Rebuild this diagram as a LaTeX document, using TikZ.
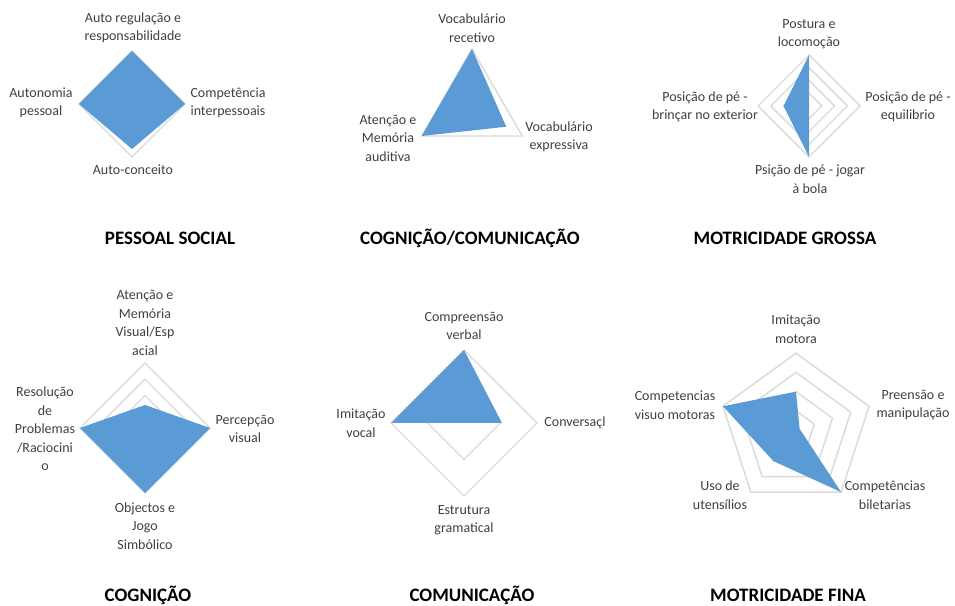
\documentclass[tikz,border=0pt]{standalone}
\usepackage{fontspec}
\setmainfont{Carlito}
\usepackage{xcolor}
\usepackage{tikz}
\definecolor{radarblue}{HTML}{5B9BD5}
\definecolor{gridgrey}{HTML}{D9D9D9}
\definecolor{labelgrey}{HTML}{404040}
\tikzstyle{every node}=[inner sep=0pt,align=center]
\tikzstyle{axislabel}=[text=labelgrey,font=\fontsize{14}{18.5}\selectfont]
\tikzstyle{charttitle}=[text=black,font=\fontsize{19}{21}\selectfont\bfseries]
\tikzstyle{ring}=[draw=gridgrey,line width=1.4pt,line join=miter]
\tikzstyle{serie}=[fill=radarblue,draw=none]

\begin{document}
\begin{tikzpicture}[x=1pt,y=1pt]
	\useasboundingbox (0,0) rectangle (955,605);

	\begin{scope}[shift={(132,501)}]
		\foreach \r in {0.5,1} {
			\draw [ring] (90:53*\r) -- (0:53*\r) -- (-90:53*\r) -- (180:53*\r) -- cycle;
		}
		\fill [serie] (90:53) -- (0:53) -- (-90:45) -- (180:53) -- cycle;
	\end{scope}
	\node [axislabel] (autoreg) at (133,577) {Auto regulação e\\responsabilidade};
	\node [axislabel] (compint) at (228,502) {Competência\\interpessoais};
	\node [axislabel] (autocon) at (133,435) {Auto-conceito};
	\node [axislabel] (autonom) at (41,502) {Autonomia\\pessoal};
	\node [charttitle] (pessoal) at (170,367) {PESSOAL SOCIAL};

	\begin{scope}[shift={(472,498)}]
		\foreach \r in {0.5,1} {
			\draw [ring] (90:58*\r) -- (-30:58*\r) -- (210:58*\r) -- cycle;
		}
		\fill [serie] (90:58) -- (-30:39.5) -- (210:58) -- cycle;
	\end{scope}
	\node [axislabel] (vocrec) at (472,577) {Vocabulário\\recetivo};
	\node [axislabel] (vocexp) at (559,468) {Vocabulário\\expressiva};
	\node [axislabel] (atenaud) at (388,467) {Atenção e\\Memória\\auditiva};
	\node [charttitle] (cogcom) at (470,367) {COGNIÇÃO/COMUNICAÇÃO};

	\begin{scope}[shift={(809,499)}]
		\foreach \r in {0.25,0.5,0.75,1} {
			\draw [ring] (90:51*\r) -- (0:51*\r) -- (-90:51*\r) -- (180:51*\r) -- cycle;
		}
		\fill [serie] (90:51) -- (0:0) -- (-90:51) -- (180:25.5) -- cycle;
	\end{scope}
	\node [axislabel] (postura) at (809,571) {Postura e\\locomoção};
	\node [axislabel] (equil) at (908,498) {Posição de pé -\\equilibrio};
	\node [axislabel] (jogar) at (810,426) {Psição de pé - jogar\\à bola};
	\node [axislabel] (brincar) at (705,498) {Posição de pé -\\brinçar no exterior};
	\node [charttitle] (grossa) at (785,367) {MOTRICIDADE GROSSA};

	\begin{scope}[shift={(145,177)}]
		\foreach \r in {0.25,0.5,0.75,1} {
			\draw [ring] (90:65*\r) -- (0:65*\r) -- (-90:65*\r) -- (180:65*\r) -- cycle;
		}
		\fill [serie] (90:23) -- (0:65) -- (-90:65) -- (180:65) -- cycle;
	\end{scope}
	\node [axislabel] (atenvis) at (145,282) {Atenção e\\Memória\\Visual/Esp\\acial};
	\node [axislabel] (percep) at (245,176) {Percepção\\visual};
	\node [axislabel] (objectos) at (145,79) {Objectos e\\Jogo\\Simbólico};
	\node [axislabel] (resol) at (45,176) {Resolução\\de\\Problemas\\/Raciocini\\o};
	\node [charttitle] (cognicao) at (148,10) {COGNIÇÃO};

	\begin{scope}[shift={(464,182)}]
		\foreach \r in {0.5,1} {
			\draw [ring] (90:73*\r) -- (0:73*\r) -- (-90:73*\r) -- (180:73*\r) -- cycle;
		}
		\fill [serie] (90:73) -- (0:38) -- (0:0) -- (180:73) -- cycle;
	\end{scope}
	\node [axislabel] (compreen) at (464,279) {Compreensão\\verbal};
	\node [axislabel] (convers) at (575,182) {Conversaçl};
	\node [axislabel] (estrut) at (464,85) {Estrutura\\gramatical};
	\node [axislabel] (imitvoc) at (361,182) {Imitação\\vocal};
	\node [charttitle] (comunic) at (472,10) {COMUNICAÇÃO};

	\begin{scope}[shift={(796,175)}]
		\foreach \r in {0.25,0.5,0.75,1} {
			\draw [ring] (90:76.8*\r) -- (18:76.8*\r) -- (-54:76.8*\r) -- (-126:76.8*\r) -- (162:76.8*\r) -- cycle;
		}
		\fill [serie] (90:38.4) -- (18:3.8) -- (-54:76.8) -- (-126:38.4) -- (162:76.8) -- cycle;
	\end{scope}
	\node [axislabel] (imitmot) at (796,276) {Imitação\\motora};
	\node [axislabel] (preensao) at (913,200) {Preensão e\\manipulação};
	\node [axislabel] (bilet) at (885,110) {Competências\\biletarias};
	\node [axislabel] (utens) at (720,110) {Uso de\\utensílios};
	\node [axislabel] (visuo) at (675,200) {Competencias\\visuo motoras};
	\node [charttitle] (fina) at (788,10) {MOTRICIDADE FINA};
\end{tikzpicture}
\end{document}
